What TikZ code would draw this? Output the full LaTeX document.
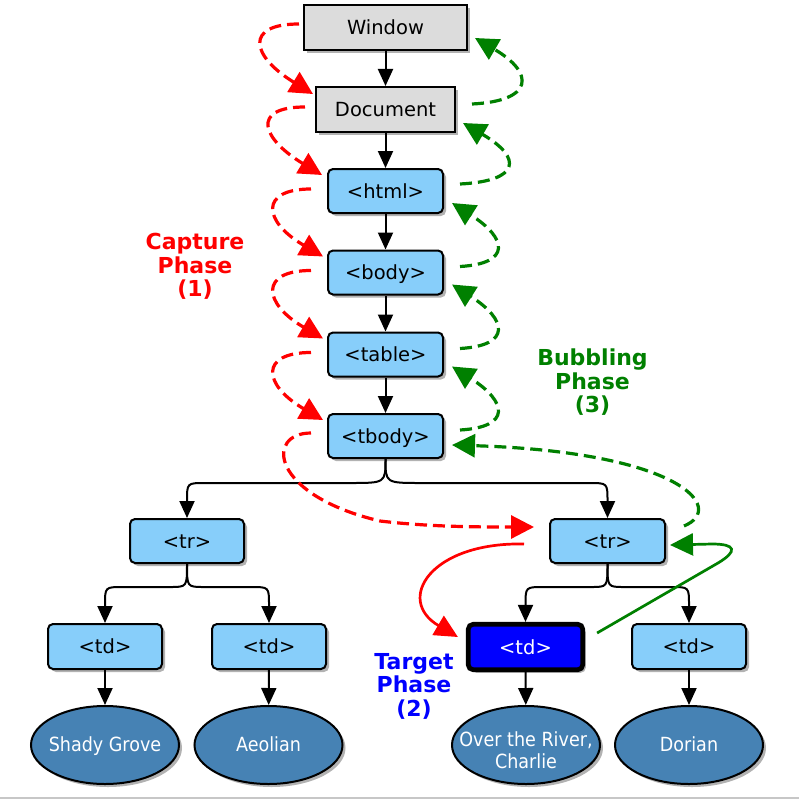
\documentclass[tikz,border=0pt]{standalone}
\usepackage{fontspec}
\setmainfont{DejaVu Sans}
\newfontfamily\condfont[FakeStretch=0.9]{DejaVu Sans}
\usetikzlibrary{arrows.meta,shapes.geometric,shadows}
\definecolor{boxgray}{RGB}{220,220,220}
\definecolor{boxblue}{RGB}{135,206,250}
\definecolor{ellblue}{RGB}{70,130,180}
\definecolor{dgreen}{RGB}{0,128,0}
\newcommand{\ellline}[1]{\makebox[0pt][c]{#1}}
\begin{document}
\begin{tikzpicture}[x=1pt,y=-1pt,
  shd/.style={drop shadow={shadow xshift=3pt,shadow yshift=-3pt,opacity=0.3,fill=black}},
  graynode/.style={draw=black,line width=2pt,fill=boxgray,minimum height=45pt,inner sep=0pt,
    font=\fontsize{19.5}{23}\selectfont,text height=18pt,text depth=3.8pt,shd},
  bluebox/.style={graynode,fill=boxblue,rounded corners=5pt,minimum width=115pt,minimum height=44pt},
  tgtbox/.style={bluebox,fill=blue,text=white,line width=4.7pt,minimum width=114.5pt,minimum height=45.5pt},
  leafell/.style={ellipse,draw=black,line width=2pt,fill=ellblue,text=white,minimum width=148pt,
    minimum height=78pt,inner sep=0pt,align=center,font=\condfont\fontsize{19.5}{22}\selectfont,shd},
  treeedge/.style={draw=black,line width=2pt,-{Triangle[length=17pt,width=15pt]}},
  captarrow/.style={draw=red,line width=3.2pt,dash pattern=on 12pt off 6pt,-{Triangle[length=23pt,width=23pt]}},
  bublarrow/.style={draw=dgreen,line width=3.2pt,dash pattern=on 12pt off 6pt,-{Triangle[length=23pt,width=23pt]}},
  tgtarrow/.style={line width=2.7pt,-{Triangle[length=23pt,width=22pt]}},
  phaselabel/.style={anchor=north,align=center,inner sep=0pt,font=\fontsize{22}{23.5}\selectfont\bfseries}
]
\useasboundingbox (0,0) rectangle (799,800);
\fill[white] (0,0) rectangle (799,800);
\draw[black!22,line width=1.5pt] (0,798) -- (799,798);

% nodes
\node[graynode,minimum width=163pt] (win) at (385.5,27.5) {Window};
\node[graynode,minimum width=139pt] (doc) at (385.5,109.5) {Document};
\node[bluebox] (html) at (385.5,191) {<html>};
\node[bluebox] (body) at (385.5,272.5) {<body>};
\node[bluebox] (table) at (385.5,354.5) {<table>};
\node[bluebox] (tbody) at (385.5,436) {<tbody>};
\node[bluebox,minimum width=114pt] (trL) at (187,541) {<tr>};
\node[bluebox] (trR) at (607.5,541) {<tr>};
\node[bluebox,minimum width=114pt,minimum height=45pt] (td1) at (105,646.5) {<td>};
\node[bluebox,minimum width=114pt,minimum height=45pt] (td2) at (269,646.5) {<td>};
\node[tgtbox] (td3) at (525.5,647) {<td>};
\node[bluebox,minimum width=114pt,minimum height=45pt] (td4) at (689,646.5) {<td>};
\node[leafell,text height=18pt,text depth=4.2pt] (e1) at (105,745) {\ellline{Shady Grove}};
\node[leafell,text height=18pt,text depth=4.2pt] (e2) at (268.5,745) {\ellline{Aeolian}};
\node[leafell] (e3) at (526,745) {\rule{0pt}{25pt}\ellline{Over the River,}\\\ellline{Charlie}};
\node[leafell,text height=18pt,text depth=4.2pt] (e4) at (689,745) {\ellline{Dorian}};

% labels
\node[phaselabel,text=red] (lcap) at (195,233) {Capture\\Phase\\(1)};
\node[phaselabel,text=dgreen] (lbub) at (592.5,349) {Bubbling\\Phase\\(3)};
\node[phaselabel,text=blue] (ltgt) at (414,653) {Target\\Phase\\(2)};

% tree edges
\draw[treeedge] (win) -- (doc);
\draw[treeedge] (doc) -- (html);
\draw[treeedge] (html) -- (body);
\draw[treeedge] (body) -- (table);
\draw[treeedge] (table) -- (tbody);
\draw[treeedge] (tbody.south) .. controls (385.5,483) .. (350,483) -- (205,483) .. controls (187,483) .. (187,501) -- (trL.north);
\draw[treeedge] (tbody.south) .. controls (385.5,483) .. (421,483) -- (589,483) .. controls (607.5,483) .. (607.5,501) -- (trR.north);
\draw[treeedge] (trL.south) .. controls (187,587) .. (170,587) -- (123,587) .. controls (105,587) .. (105,605) -- (td1.north);
\draw[treeedge] (trL.south) .. controls (187,587) .. (204,587) -- (251,587) .. controls (269,587) .. (269,605) -- (td2.north);
\draw[treeedge] (trR.south) .. controls (607.5,587) .. (591,587) -- (543.5,587) .. controls (525.5,587) .. (525.5,605) -- (td3.north);
\draw[treeedge] (trR.south) .. controls (607.5,587) .. (624,587) -- (671,587) .. controls (689,587) .. (689,605) -- (td4.north);
\draw[treeedge] (td1) -- (e1);
\draw[treeedge] (td2) -- (e2);
\draw[treeedge] (td3) -- (e3);
\draw[treeedge] (td4) -- (e4);

% capture phase
\draw[captarrow] ([shift={(-4,-3.5)}]win.west) .. controls +(-55,0) and +(-62,-38) .. ([shift={(-2,8)}]doc.north west);
\draw[captarrow] ([shift={(-10,-2.5)}]doc.west) .. controls +(-55,0) and +(-60,-36) .. ([shift={(-5,7)}]html.north west);
\draw[captarrow] ([shift={(-16,-2)}]html.west) .. controls +(-52,0) and +(-60,-35) .. ([shift={(-4,7)}]body.north west);
\draw[captarrow] ([shift={(-16,-2)}]body.west) .. controls +(-52,0) and +(-60,-35) .. ([shift={(-4,7)}]table.north west);
\draw[captarrow] ([shift={(-16,-2)}]table.west) .. controls +(-52,0) and +(-60,-35) .. ([shift={(-4,7)}]tbody.north west);
\draw[captarrow] ([shift={(-16,-3)}]tbody.west) .. controls +(-46,0) and (270,495) .. (380,521) .. controls (430,527) and (480,527) .. ([shift={(-15,9)}]trR.north west);

% bubbling phase
\draw[bublarrow] ([shift={(16,-5.5)}]doc.east) .. controls +(62,-3) and +(60,35) .. ([shift={(7,-13)}]win.south east);
\draw[bublarrow] ([shift={(16,-7)}]html.east) .. controls +(60,-3) and +(60,35) .. ([shift={(7,-10)}]doc.south east);
\draw[bublarrow] ([shift={(16,-6)}]body.east) .. controls +(52,-3) and +(55,35) .. ([shift={(8,-11)}]html.south east);
\draw[bublarrow] ([shift={(16,-6)}]table.east) .. controls +(52,-3) and +(55,35) .. ([shift={(8,-11)}]body.south east);
\draw[bublarrow] ([shift={(16,-6)}]tbody.east) .. controls +(52,-3) and +(55,35) .. ([shift={(8,-11)}]table.south east);
\draw[bublarrow] ([shift={(18,-15)}]trR.east) .. controls (727,508) and (680,452) .. ([shift={(8,9)}]tbody.east);

% target phase
\draw[tgtarrow,red] ([shift={(-25,3)}]trR.west) .. controls (430,542) and (395,600) .. ([shift={(-8,-10)}]td3.west);
\draw[tgtarrow,dgreen] ([shift={(12,-14)}]td3.east) -- (718,563) .. controls (738,551) and (736,544) .. (712,544) -- ([shift={(4,4)}]trR.east);
\end{tikzpicture}
\end{document}
